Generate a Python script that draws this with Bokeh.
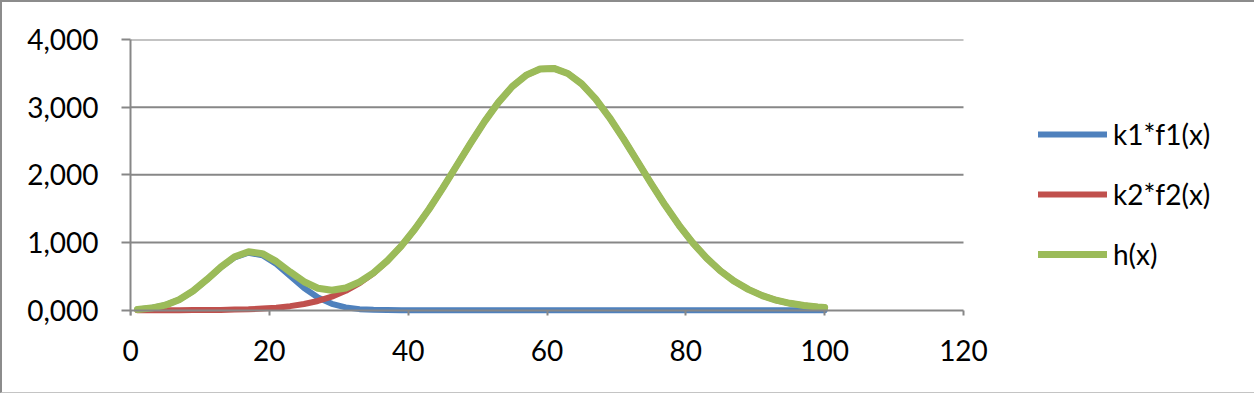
from bokeh.plotting import figure
from bokeh.models import Range1d, Legend, LegendItem, FixedTicker, LinearAxis
from bokeh.embed import file_html
from bokeh.resources import INLINE

# ---- data ----
x = [1, 3, 5, 7, 9, 11, 13, 15, 17, 19, 21, 23, 25, 27, 29, 31, 33, 35, 37, 39,
     41, 43, 45, 47, 49, 51, 53, 55, 57, 59, 61, 63, 65, 67, 69, 71, 73, 75, 77, 79,
     81, 83, 85, 87, 89, 91, 93, 95, 97, 99, 100]

k1_f1 = [12, 32, 75, 155, 282, 450, 632, 781, 849, 812, 683, 505, 329, 188, 95, 42, 16, 6, 2, 0,
         0, 0, 0, 0, 0, 0, 0, 0, 0, 0, 0, 0, 0, 0, 0, 0, 0, 0, 0, 0,
         0, 0, 0, 0, 0, 0, 0, 0, 0, 0, 0]

k2_f2 = [0, 0, 0, 1, 2, 3, 5, 9, 14, 24, 38, 60, 92, 137, 201, 287, 401, 547, 729, 947,
         1203, 1492, 1807, 2138, 2470, 2787, 3071, 3305, 3473, 3565, 3573, 3498, 3344, 3122, 2847, 2535, 2205, 1872, 1553, 1258,
         995, 769, 580, 427, 308, 216, 148, 102, 70, 48, 40]

h = [12, 32, 75, 156, 284, 453, 637, 790, 863, 836, 721, 565, 421, 325, 296, 329, 417, 553, 731, 947,
     1203, 1492, 1807, 2138, 2470, 2787, 3071, 3305, 3473, 3565, 3573, 3498, 3344, 3122, 2847, 2535, 2205, 1872, 1553, 1258,
     995, 769, 580, 427, 308, 216, 148, 102, 70, 48, 40]

series_names = ["k1*f1(x)", "k2*f2(x)", "h(x)"]
series_colors = ["#4F81BD", "#C0504D", "#9BBB59"]
series_widths = [6, 6, 7]

x_ticks = [0, 20, 40, 60, 80, 100, 120]
y_ticks = [0, 1000, 2000, 3000, 4000]
y_tick_labels = ["0,000", "1,000", "2,000", "3,000", "4,000"]

FONT = "Lato"
FSIZE = "28px"
GRAY = "#878787"

W, H = 1254, 393
LEFT, TOP, BOTTOM = 128, 37, 80
PX_PER_X = 833 / (x_ticks[-1] - x_ticks[0])
x_end = (W - LEFT) / PX_PER_X  # plot area runs past 120 to hold the legend

p = figure(width=W, height=H,
           x_range=Range1d(0, x_end), y_range=Range1d(-78, 4000),
           output_backend="svg", toolbar_location=None,
           x_axis_location=None,
           min_border_left=LEFT, min_border_right=0,
           min_border_top=TOP, min_border_bottom=BOTTOM)

p.styles = {"border-left": "2px solid #8c8c8c",
            "border-top": "2px solid #8c8c8c",
            "border-bottom": "1px solid #c4c4c4",
            "overflow": "hidden"}

p.outline_line_color = None
p.background_fill_color = "white"
p.border_fill_color = "white"
p.xgrid.visible = False
p.ygrid.visible = False

# horizontal gridlines, limited to the axis extent 0..120
grid_y = y_ticks[1:]
p.segment(x0=[x_ticks[0]] * len(grid_y), x1=[x_ticks[-1]] * len(grid_y),
          y0=grid_y, y1=grid_y, line_color=GRAY, line_width=2)

# x axis: line + ticks at y = 0
xa_line = LinearAxis(ticker=FixedTicker(ticks=x_ticks), fixed_location=0,
                     bounds=(x_ticks[0], x_ticks[-1]),
                     axis_line_color=GRAY, axis_line_width=2,
                     major_tick_line_color=GRAY, major_tick_line_width=2,
                     major_tick_out=9, major_tick_in=0,
                     minor_tick_line_color=None,
                     major_label_text_alpha=0, major_label_text_font_size="1px")
p.add_layout(xa_line, "below")
# x axis: labels only
xa_lab = LinearAxis(ticker=FixedTicker(ticks=x_ticks),
                    bounds=(x_ticks[0], x_ticks[-1]),
                    axis_line_color=None, major_tick_line_color=None,
                    minor_tick_line_color=None,
                    major_tick_out=0, major_tick_in=0,
                    major_label_standoff=24,
                    major_label_text_font=FONT, major_label_text_font_size=FSIZE,
                    major_label_text_color="black")
p.add_layout(xa_lab, "below")

ya = p.yaxis[0]
ya.ticker = FixedTicker(ticks=y_ticks)
ya.major_label_overrides = {t: l for t, l in zip(y_ticks, y_tick_labels)}
ya.axis_line_color = GRAY
ya.axis_line_width = 2
ya.major_tick_line_color = GRAY
ya.major_tick_line_width = 2
ya.major_tick_out = 9
ya.major_tick_in = 0
ya.minor_tick_line_color = None
ya.major_label_text_font = FONT
ya.major_label_text_font_size = FSIZE
ya.major_label_text_color = "black"
ya.major_label_standoff = 23

renderers = []
for ys, col, w in zip([k1_f1, k2_f2, h], series_colors, series_widths):
    r = p.line(x, ys, line_color=col, line_width=w,
               line_cap="round", line_join="round")
    renderers.append(r)

legend = Legend(items=[LegendItem(label=n, renderers=[r]) for n, r in zip(series_names, renderers)],
                location=(908, 41), orientation="vertical",
                glyph_width=69, glyph_height=40, label_height=40,
                label_standoff=6, spacing=20, padding=0, margin=0,
                label_text_font=FONT, label_text_font_size=FSIZE,
                label_text_color="black",
                border_line_color=None, background_fill_alpha=0)
p.add_layout(legend, "center")

open("out.html", "w").write(file_html(p, INLINE))
